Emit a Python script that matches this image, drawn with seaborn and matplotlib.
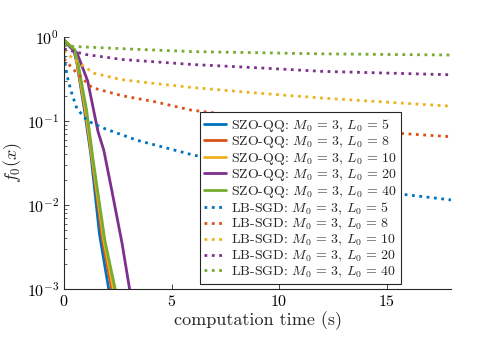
import numpy as np
import pandas as pd
import matplotlib
matplotlib.use("Agg")
import matplotlib.pyplot as plt
import seaborn as sns
from matplotlib.ticker import LogLocator, NullFormatter

sns.set_theme(style="white")
plt.rcParams['font.family'] = ['cmr10', 'DejaVu Serif']
plt.rcParams['mathtext.fontset'] = 'cm'
plt.rcParams['axes.unicode_minus'] = False
plt.rcParams['axes.formatter.use_mathtext'] = True

L0_values = [5, 8, 10, 20, 40]
colors = ["#0072BD", "#D95319", "#EDB120", "#7E2F8E", "#77AC30"]

# SZO-QQ curves (time in s, f0 value)
szo_t = {
    5:  [0, 0.45, 0.60, 0.95, 1.25, 1.65, 2.08],
    8:  [0, 0.48, 0.61, 0.98, 1.28, 1.78, 2.22],
    10: [0, 0.50, 0.62, 1.00, 1.30, 1.85, 2.30],
    20: [0, 0.30, 0.60, 1.10, 1.58, 1.85, 2.20, 2.70, 3.05],
    40: [0, 0.50, 0.65, 1.05, 1.35, 1.90, 2.38],
}
szo_f = {
    5:  [0.92, 0.70, 0.49, 0.135, 0.040, 0.0045, 0.001],
    8:  [0.92, 0.70, 0.49, 0.135, 0.039, 0.0040, 0.001],
    10: [0.92, 0.70, 0.49, 0.135, 0.038, 0.0038, 0.001],
    20: [0.92, 0.75, 0.65, 0.30, 0.075, 0.045, 0.016, 0.0035, 0.001],
    40: [0.92, 0.70, 0.49, 0.135, 0.035, 0.0038, 0.001],
}

# LB-SGD curves
lb_t = {
    5:  [0, 0.1, 0.2, 0.37, 0.6, 1.1, 1.9, 3.4, 5.9, 10, 14.6, 18],
    8:  [0, 0.3, 0.6, 1.3, 2.7, 4.2, 5.9, 10, 14.6, 18],
    10: [0, 0.4, 0.8, 1.4, 2.7, 4.2, 6.0, 9.0, 12.2, 18],
    20: [0, 0.2, 1.0, 2.7, 6.0, 9.0, 12.0, 18],
    40: [0, 0.5, 3.0, 6.0, 9.0, 12.0, 18],
}
lb_f = {
    5:  [0.60, 0.40, 0.30, 0.21, 0.14, 0.10, 0.081, 0.059, 0.040, 0.023, 0.0145, 0.0115],
    8:  [0.55, 0.45, 0.37, 0.25, 0.20, 0.17, 0.135, 0.100, 0.074, 0.065],
    10: [0.68, 0.56, 0.47, 0.37, 0.31, 0.28, 0.25, 0.215, 0.186, 0.15],
    20: [0.72, 0.70, 0.62, 0.54, 0.47, 0.43, 0.39, 0.355],
    40: [0.79, 0.77, 0.72, 0.67, 0.65, 0.63, 0.61],
}

fig = plt.figure(figsize=(4.98, 3.52), dpi=100)
ax = fig.add_axes([64/498, 63/352, 387/498, 252/352])

for L0, c in zip(L0_values, colors):
    df = pd.DataFrame({"t": szo_t[L0], "f": szo_f[L0]})
    sns.lineplot(data=df, x="t", y="f", ax=ax, color=c, lw=2.0,
                 label=f"SZO-QQ: $M_0 \\,=\\, 3,\\, L_0 \\,=\\, {L0}$", sort=False)
for L0, c in zip(L0_values, colors):
    df = pd.DataFrame({"t": lb_t[L0], "f": lb_f[L0]})
    sns.lineplot(data=df, x="t", y="f", ax=ax, color=c, lw=2.0, linestyle=":",
                 label=f"LB-SGD: $M_0 \\,=\\, 3,\\, L_0 \\,=\\, {L0}$", sort=False)

ax.set_yscale("log")
ax.set_xlim(0, 18)
ax.set_ylim(1e-3, 1)
ax.set_xticks([0, 5, 10, 15])
ax.yaxis.set_major_locator(LogLocator(base=10, numticks=10))
ax.yaxis.set_minor_locator(LogLocator(base=10, subs=np.arange(2, 10), numticks=20))
ax.yaxis.set_minor_formatter(NullFormatter())
ax.tick_params(axis="both", which="both", direction="in", labelsize=11.5,
               colors="#262626", labelcolor="black", left=True, bottom=True)
ax.tick_params(which="major", length=3.5, width=0.6)
ax.tick_params(which="minor", length=2, width=0.5)
for s in ["top", "right"]:
    ax.spines[s].set_visible(False)
for s in ["left", "bottom"]:
    ax.spines[s].set_color("#262626")
    ax.spines[s].set_linewidth(0.8)

ax.set_xlabel("computation time (s)", fontsize=13, labelpad=2)
ax.set_ylabel("$f_0(x)$", fontsize=13, labelpad=2)

leg = ax.legend(loc="lower left", bbox_to_anchor=(136/387, 5/252), fontsize=10,
                frameon=True, fancybox=False, edgecolor="#262626", framealpha=1,
                handlelength=1.6, handletextpad=0.3, borderpad=0.3,
                labelspacing=0.04, borderaxespad=0)
leg.get_frame().set_linewidth(0.8)

fig.savefig("out.png", dpi=100)
